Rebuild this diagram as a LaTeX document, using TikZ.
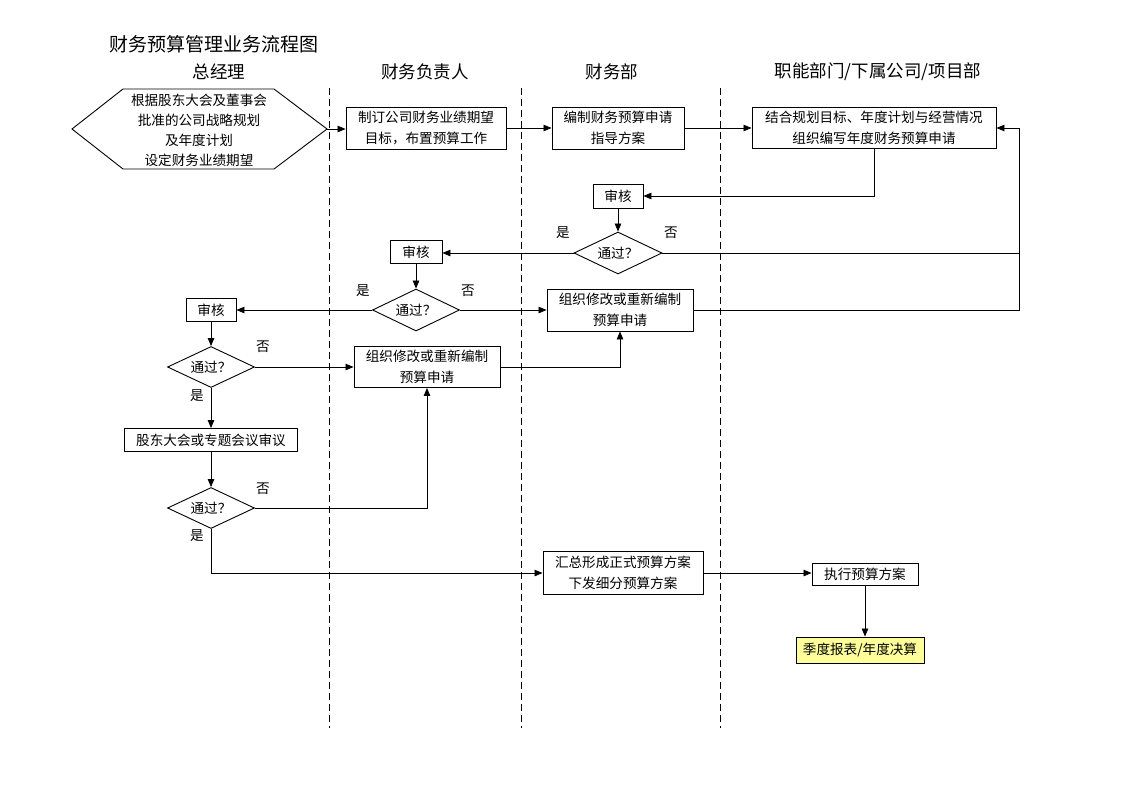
\documentclass[tikz,border=0pt]{standalone}
\usepackage{fontspec}
\setmainfont{Noto Sans CJK SC}
\usetikzlibrary{arrows.meta,shapes.geometric}
\definecolor{noteyellow}{HTML}{FFFF99}
\begin{document}
\begin{tikzpicture}[x=1pt,y=-1pt,
  every node/.style={inner sep=0pt},
  box/.style={draw, line width=0.9pt, align=center, font=\fontsize{13.6}{21.5}\selectfont},
  dia/.style={draw, diamond, aspect=2, line width=0.9pt, minimum width=88pt, minimum height=42pt, font=\fontsize{13.6}{15}\selectfont},
  lab/.style={font=\fontsize{13.6}{15}\selectfont},
  head/.style={font=\fontsize{17.5}{19}\selectfont},
  lane/.style={line width=0.9pt, dash pattern=on 7pt off 4pt},
  link/.style={line width=0.8pt},
  arr/.style={line width=0.8pt, -{Triangle[length=8pt,width=6.5pt]}}
]
\fill[white] (0,0) rectangle (1122,793);
\useasboundingbox (0,0) rectangle (1122,793);

% title and lane headers
\node[anchor=west, font=\fontsize{19}{21}\selectfont] (title) at (109,44) {财务预算管理业务流程图};
\node[head] (h1) at (219,72) {总经理};
\node[head] (h2) at (425,72) {财务负责人};
\node[head] (h3) at (612,72) {财务部};
\node[head] (h4) at (878,72) {职能部门/下属公司/项目部};

% lane separators
\coordinate (d1t) at (329,88); \coordinate (d1b) at (329,728);
\coordinate (d2t) at (521,88); \coordinate (d2b) at (521,728);
\coordinate (d3t) at (720,88); \coordinate (d3b) at (720,728);
\draw[lane] (d1t) -- (d1b);
\draw[lane] (d2t) -- (d2b);
\draw[lane] (d3t) -- (d3b);

% hexagon start
\coordinate (hL) at (72,129);
\coordinate (hTL) at (123,89);
\coordinate (hTR) at (274,89);
\coordinate (hR) at (327,129);
\coordinate (hBR) at (274,169);
\coordinate (hBL) at (123,169);
\draw[line width=0.9pt] (hL) -- (hTL) -- (hTR) -- (hR) -- (hBR) -- (hBL) -- cycle;
\node[align=center, font=\fontsize{13.6}{20}\selectfont] (hex) at (199,130) {根据股东大会及董事会\\批准的公司战略规划\\及年度计划\\设定财务业绩期望};

% boxes
\node[box, minimum width=160pt, minimum height=42pt] (b1) at (426,128) {制订公司财务业绩期望\\目标，布置预算工作};
\node[box, minimum width=132pt, minimum height=42pt] (b2) at (618,128) {编制财务预算申请\\指导方案};
\node[box, minimum width=244pt, minimum height=41pt] (b3) at (874,128) {结合规划目标、年度计划与经营情况\\组织编写年度财务预算申请};

\node[box, minimum width=50pt, minimum height=24pt] (sh1) at (618,196) {审核};
\node[dia] (dm1) at (618,253) {通过？};
\node[box, minimum width=52pt, minimum height=23pt] (sh2) at (416,252) {审核};
\node[dia, minimum width=87pt] (dm2) at (416,310) {通过？};
\node[box, minimum width=50pt, minimum height=23pt] (sh3) at (211,310) {审核};
\node[box, minimum width=146pt, minimum height=42pt] (rv1) at (620,310) {组织修改或重新编制\\预算申请};
\node[dia, minimum width=87pt, minimum height=41pt] (dm3) at (211,367) {通过？};
\node[box, minimum width=146pt, minimum height=41pt] (rv2) at (427,367) {组织修改或重新编制\\预算申请};
\node[box, minimum width=173pt, minimum height=23pt] (gd) at (211,440) {股东大会或专题会议审议};
\node[dia, minimum width=87pt, minimum height=41pt] (dm4) at (211,508) {通过？};
\node[box, minimum width=160pt, minimum height=43pt] (hz) at (623,573) {汇总形成正式预算方案\\下发细分预算方案};
\node[box, minimum width=106pt, minimum height=22pt] (zx) at (865,574) {执行预算方案};
\node[box, fill=noteyellow, minimum width=128pt, minimum height=26pt] (jd) at (860,650) {季度报表/年度决算};

% labels
\node[lab] (y1) at (563,233) {是};
\node[lab] (n1) at (671,233) {否};
\node[lab] (y2) at (363,291) {是};
\node[lab] (n2) at (468,291) {否};
\node[lab] (n3) at (263,347) {否};
\node[lab] (y3) at (197,396) {是};
\node[lab] (n4) at (263,489) {否};
\node[lab] (y4) at (197,536) {是};

% connectors
\coordinate (rc) at (1019,128);
\draw[arr] (hR) -- (hR -| b1.west);
\draw[arr] (b1.east) -- (b2.west);
\draw[arr] (b2.east) -- (b3.west);
\draw[arr] (b3.south) |- (sh1.east);
\draw[arr] (sh1.south) -- (dm1.north);
\draw[arr] (dm1.west) -- (dm1.west -| sh2.east);
\draw[link] (dm1.east) -- (dm1.east -| rc);
\draw[arr] (rv1.east) -| (rc) -- (b3.east);
\draw[arr] (sh2.south) -- (dm2.north);
\draw[arr] (dm2.west) -- (sh3.east);
\draw[arr] (dm2.east) -- (rv1.west);
\draw[arr] (sh3.south) -- (dm3.north);
\draw[arr] (dm3.east) -- (rv2.west);
\draw[arr] (rv2.east) -| (rv1.south);
\draw[arr] (dm3.south) -- (gd.north);
\draw[arr] (gd.south) -- (dm4.north);
\draw[arr] (dm4.east) -| (rv2.south);
\draw[arr] (dm4.south) |- (hz.west);
\draw[arr] (hz.east) -- (hz.east -| zx.west);
\draw[arr] (zx.south) -- (zx.south |- jd.north);
\end{tikzpicture}
\end{document}
